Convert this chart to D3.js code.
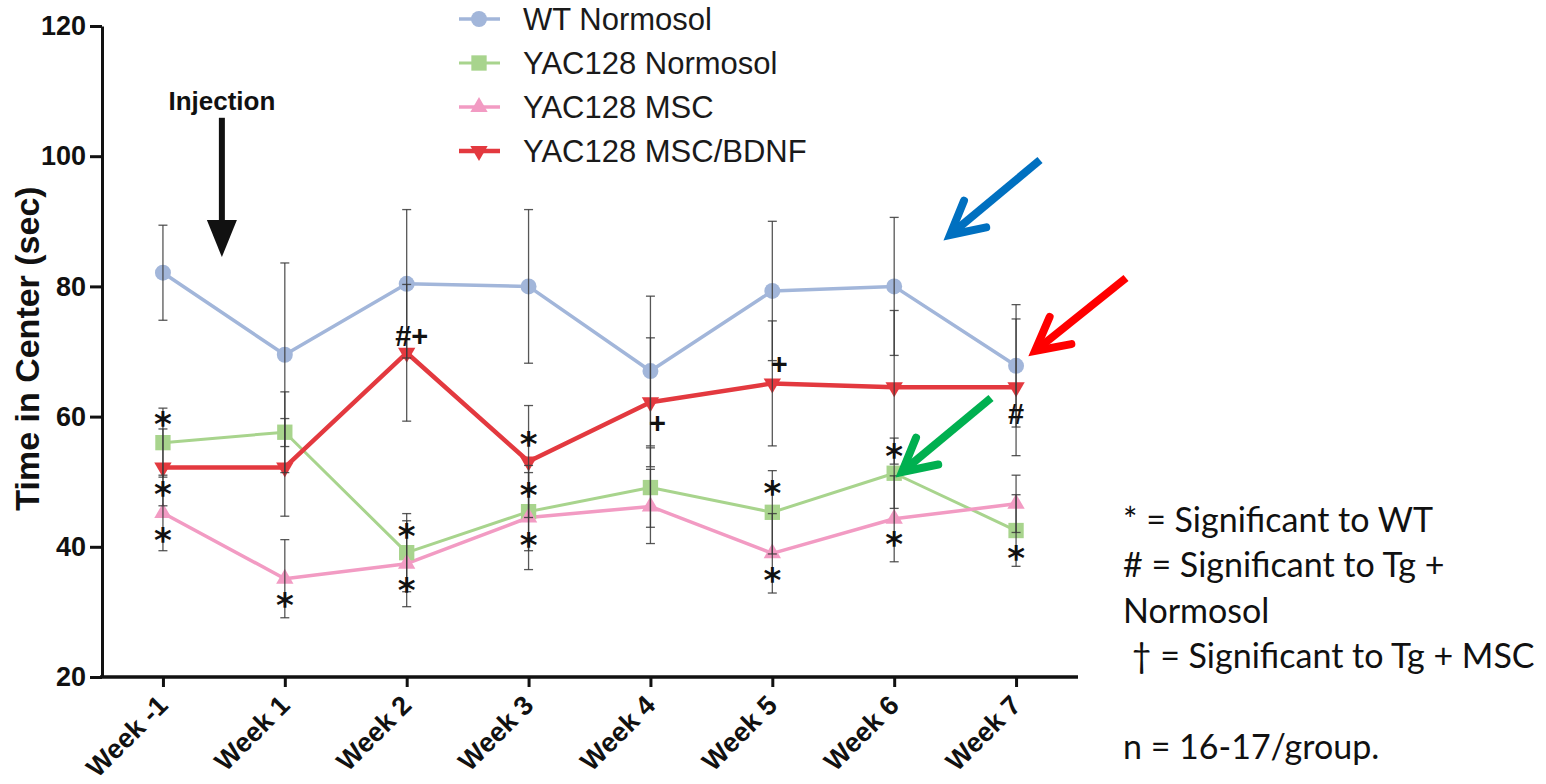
<!DOCTYPE html>
<html>
<head>
<meta charset="utf-8">
<script src="https://cdn.jsdelivr.net/npm/d3@7"></script>
<style>
  body { margin: 0; background: #fff; }
  svg { display: block; }
</style>
</head>
<body>
<svg id="chart" width="1546" height="784"></svg>
<script>
// Open-field test: time spent in the centre, by week
const weeks = ["Week -1", "Week 1", "Week 2", "Week 3", "Week 4", "Week 5", "Week 6", "Week 7"];
const seriesNames = ["WT Normosol", "YAC128 Normosol", "YAC128 MSC", "YAC128 MSC/BDNF"];

const wtNormosol      = [82.1, 69.5, 80.4, 80.0, 67.0, 79.3, 80.0, 67.8];
const wtNormosolErr   = [7.3, 14.1, 11.4, 11.8, 11.5, 10.7, 10.6, 9.4];
const yacNormosol     = [56.0, 57.6, 39.1, 45.4, 49.1, 45.3, 51.3, 42.5];
const yacNormosolErr  = [5.3, 6.2, 6.0, 6.0, 6.1, 6.4, 5.4, 5.5];
const yacMsc          = [45.2, 35.1, 37.4, 44.5, 46.2, 39.0, 44.3, 46.6];
const yacMscErr       = [5.8, 6.0, 6.6, 8.0, 5.7, 6.1, 6.6, 4.4];
const yacMscBdnf      = [52.2, 52.2, 69.8, 53.1, 62.2, 65.1, 64.5, 64.5];
const yacMscBdnfErr   = [5.9, 7.5, 10.5, 8.6, 9.9, 9.6, 11.8, 10.5];

const yTicks = [20, 40, 60, 80, 100, 120];

// significance marks: week, symbol, level (sec) at which the mark sits
const annWeek  = ["Week -1", "Week -1", "Week -1", "Week 1", "Week 2", "Week 2", "Week 2",
                  "Week 3", "Week 3", "Week 3", "Week 4", "Week 5", "Week 5", "Week 5",
                  "Week 6", "Week 6", "Week 7", "Week 7"];
const annMark  = ["*", "*", "*", "*", "#+", "*", "*",
                  "*", "*", "*", "+", "+", "*", "*",
                  "*", "*", "#", "*"];
const annValue = [59.8, 49.0, 41.9, 32.0, 72.5, 42.5, 34.3,
                  56.7, 48.8, 41.1, 59.1, 68.2, 49.1, 35.7,
                  54.8, 41.3, 60.5, 39.1];

const keyLines = ["* = Significant to WT", "# = Significant to Tg +", "Normosol",
                  "\u00a0\u2020 = Significant to Tg + MSC", "", "n = 16-17/group."];

const series = [
  { name: seriesNames[0], values: wtNormosol, errs: wtNormosolErr, color: "#a2b6da", lw: 3.5, shape: d3.symbolCircle,   size: 200, rot: 0 },
  { name: seriesNames[1], values: yacNormosol, errs: yacNormosolErr, color: "#a8d48d", lw: 3,   shape: d3.symbolSquare,   size: 235, rot: 0 },
  { name: seriesNames[2], values: yacMsc, errs: yacMscErr, color: "#f29bc3", lw: 3.5, shape: d3.symbolTriangle, size: 130, rot: 0 },
  { name: seriesNames[3], values: yacMscBdnf, errs: yacMscBdnfErr, color: "#e3393f", lw: 4.5, shape: d3.symbolTriangle, size: 130, rot: 180 }
];

const svg = d3.select("#chart");
svg.append("rect").attr("width", 1546).attr("height", 784).attr("fill", "#fff");

const x = d3.scalePoint().domain(weeks).range([102, 1077]).padding(0.5);
const y = d3.scaleLinear().domain([20, 120]).range([677, 26]);

const boldFont = "'Liberation Sans', Arial, sans-serif";

// ---- axes
const yAxis = svg.append("g")
  .attr("transform", "translate(102,0)")
  .call(d3.axisLeft(y).tickValues(yTicks).tickSize(12).tickSizeOuter(0).tickPadding(4));
yAxis.select(".domain").attr("stroke", "#111").attr("stroke-width", 3);
yAxis.selectAll(".tick line").attr("stroke", "#111").attr("stroke-width", 3);
yAxis.selectAll(".tick text")
  .attr("font-family", boldFont).attr("font-weight", "bold")
  .attr("font-size", 27).attr("fill", "#111");

const xAxis = svg.append("g")
  .attr("transform", "translate(0,677)")
  .call(d3.axisBottom(x).tickSize(10).tickSizeOuter(0).tickPadding(0));
xAxis.select(".domain").attr("stroke", "#111").attr("stroke-width", 3.5)
  .attr("d", "M100,0H1078");
xAxis.selectAll(".tick line").attr("stroke", "#111").attr("stroke-width", 3);
xAxis.selectAll(".tick text")
  .attr("font-family", boldFont).attr("font-weight", "bold")
  .attr("font-size", 27).attr("fill", "#111")
  .attr("text-anchor", "end")
  .attr("dy", null)
  .attr("y", null)
  .attr("transform", "translate(6,30) rotate(-45)");

svg.append("text")
  .attr("transform", `translate(39,${(y(20) + y(120)) / 2 - 3}) rotate(-90)`)
  .attr("text-anchor", "middle")
  .attr("font-family", boldFont).attr("font-weight", "bold")
  .attr("font-size", 34).attr("fill", "#111")
  .text("Time in Center (sec)");

// ---- series lines
const line = d3.line().x((d, i) => x(weeks[i])).y(d => y(d));
series.forEach(s => {
  svg.append("path")
    .attr("d", line(s.values))
    .attr("fill", "none")
    .attr("stroke", s.color)
    .attr("stroke-width", s.lw)
    .attr("stroke-linejoin", "round");
});

// ---- markers
series.forEach(s => {
  const sym = d3.symbol().type(s.shape).size(s.size);
  svg.append("g").selectAll("path")
    .data(s.values)
    .join("path")
    .attr("d", sym)
    .attr("transform", (d, i) => `translate(${x(weeks[i])},${y(d)}) rotate(${s.rot})`)
    .attr("fill", s.color);
});

// ---- error bars
series.forEach(s => {
  const g = svg.append("g").attr("stroke", "#3a3a3a").attr("stroke-width", 1.3).attr("stroke-opacity", 0.85);
  s.values.forEach((v, i) => {
    const cx = x(weeks[i]);
    const top = y(v + s.errs[i]), bot = y(v - s.errs[i]);
    g.append("line").attr("x1", cx).attr("x2", cx).attr("y1", top).attr("y2", bot);
    g.append("line").attr("x1", cx - 4.5).attr("x2", cx + 4.5).attr("y1", top).attr("y2", top);
    g.append("line").attr("x1", cx - 4.5).attr("x2", cx + 4.5).attr("y1", bot).attr("y2", bot);
  });
});

// ---- significance marks
annMark.forEach((m, i) => {
  const cx = x(annWeek[i]);
  const cy = y(annValue[i]);
  if (m === "*") {
    svg.append("text")
      .attr("x", cx).attr("y", cy + 0.52 * 34)
      .attr("text-anchor", "middle")
      .attr("font-family", "'DejaVu Sans', sans-serif").attr("font-weight", "bold")
      .attr("font-size", 34).attr("fill", "#111")
      .text(m);
  } else {
    const dx = m === "+" ? 7 : (m === "#+" ? 5 : 0);
    svg.append("text")
      .attr("x", cx + dx).attr("y", cy + 0.36 * 29)
      .attr("text-anchor", "middle")
      .attr("font-family", boldFont).attr("font-weight", "bold")
      .attr("font-size", 29).attr("fill", "#111")
      .text(m);
  }
});

// ---- injection marker between Week -1 and Week 1
const injX = (x(weeks[0]) + x(weeks[1])) / 2 - 2;
svg.append("text")
  .attr("x", injX).attr("y", y(106.3) - 5)
  .attr("text-anchor", "middle")
  .attr("font-family", boldFont).attr("font-weight", "bold")
  .attr("font-size", 26).attr("fill", "#111")
  .text("Injection");
svg.append("line")
  .attr("x1", injX).attr("x2", injX)
  .attr("y1", y(105.9)).attr("y2", y(89.8))
  .attr("stroke", "#111").attr("stroke-width", 6);
svg.append("path")
  .attr("d", `M${injX - 15},${y(90.2)}L${injX + 15},${y(90.2)}L${injX},${y(84.5)}Z`)
  .attr("fill", "#111");

// ---- legend
const legend = svg.append("g");
series.forEach((s, i) => {
  const ly = 19 + i * 44;
  legend.append("line").attr("x1", 459).attr("x2", 500).attr("y1", ly).attr("y2", ly)
    .attr("stroke", s.color).attr("stroke-width", s.lw);
  legend.append("path")
    .attr("d", d3.symbol().type(s.shape).size(s.size)())
    .attr("transform", `translate(479,${ly}) rotate(${s.rot})`)
    .attr("fill", s.color);
  legend.append("text")
    .attr("x", 523).attr("y", ly + 11)
    .attr("font-family", "'Liberation Sans', Arial, sans-serif")
    .attr("font-size", 31).attr("fill", "#1a1a1a")
    .text(s.name);
});

// ---- highlight arrows
function callout(x1, y1, x2, y2, color) {
  const ang = Math.atan2(y1 - y2, x1 - x2);
  const len = 37, spread = 28 * Math.PI / 180;
  const a1 = [x2 + len * Math.cos(ang - spread), y2 + len * Math.sin(ang - spread)];
  const a2 = [x2 + len * Math.cos(ang + spread), y2 + len * Math.sin(ang + spread)];
  const g = svg.append("g").attr("stroke", color).attr("fill", "none").attr("stroke-width", 8);
  g.append("line").attr("x1", x1).attr("y1", y1).attr("x2", x2 + 4 * Math.cos(ang)).attr("y2", y2 + 4 * Math.sin(ang))
    .attr("stroke-linecap", "butt");
  g.append("path").attr("d", `M${a1[0]},${a1[1]}L${x2},${y2}L${a2[0]},${a2[1]}`)
    .attr("stroke-linejoin", "miter").attr("stroke-linecap", "round");
}
callout(1040, 160, 950, 235, "#0070c0");
callout(1126, 278, 1035, 351, "#ff0000");
callout(991, 398, 902, 472, "#00b050");

// ---- key to significance marks
keyLines.forEach((t, i) => {
  svg.append("text")
    .attr("x", 1123).attr("y", 532 + i * 45.3)
    .attr("font-family", "Lato, 'Open Sans', sans-serif")
    .attr("font-size", 34).attr("fill", "#111")
    .style("white-space", "pre")
    .text(t);
});
</script>
</body>
</html>
